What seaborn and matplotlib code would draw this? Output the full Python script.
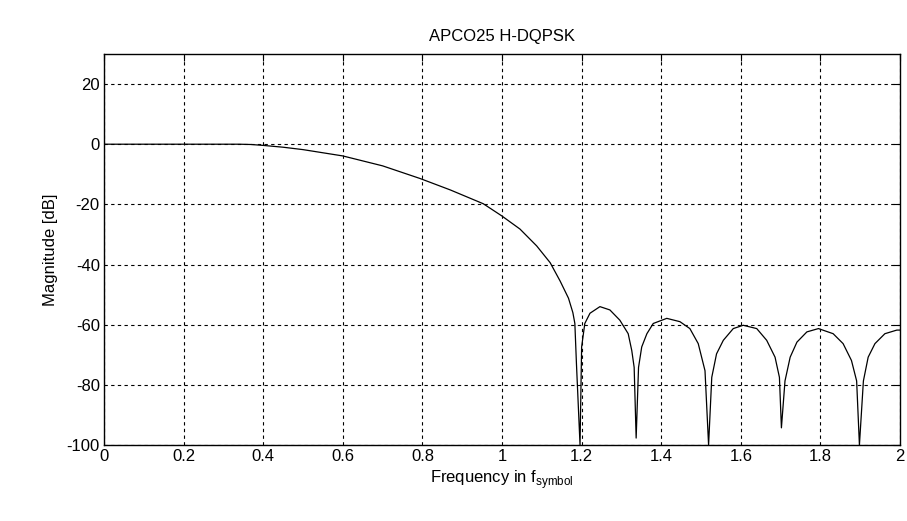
import pandas as pd
import seaborn as sns
import matplotlib.pyplot as plt

# values
freq = [0.0, 0.2, 0.34, 0.37, 0.4, 0.45, 0.5, 0.6, 0.7, 0.794, 0.87, 0.953, 0.999, 1.045, 1.087,
        1.121, 1.146, 1.167, 1.178, 1.183, 1.187, 1.196,
        1.2, 1.208, 1.221, 1.246, 1.271, 1.296, 1.317, 1.326, 1.332, 1.337,
        1.343, 1.351, 1.364, 1.38, 1.414, 1.447, 1.472, 1.493, 1.51, 1.519,
        1.527, 1.539, 1.556, 1.581, 1.606, 1.64, 1.665, 1.686, 1.697, 1.702,
        1.711, 1.724, 1.741, 1.766, 1.795, 1.832, 1.857, 1.878, 1.891, 1.898,
        1.908, 1.92, 1.937, 1.962, 1.992, 2.0]
mag_db = [0.0, 0.0, 0.0, -0.1, -0.4, -1.0, -1.8, -3.9, -7.2, -11.4, -15.2, -19.8, -23.8, -28.2, -33.8,
          -39.4, -45.5, -51.2, -56.0, -59.6, -73.0, -100.0,
          -67.4, -59.6, -56.2, -54.0, -55.1, -58.5, -63.0, -68.6, -74.2, -97.7,
          -74.2, -67.4, -63.0, -59.6, -57.9, -59.0, -61.3, -66.3, -75.3, -100.0,
          -77.5, -69.7, -65.2, -61.3, -60.2, -61.3, -65.2, -70.8, -77.5, -94.3,
          -78.7, -70.8, -65.8, -62.4, -61.3, -63.0, -66.3, -71.9, -78.7, -100.0,
          -78.7, -70.8, -66.3, -63.0, -61.8, -61.8]

xticks = [0, 0.2, 0.4, 0.6, 0.8, 1, 1.2, 1.4, 1.6, 1.8, 2]
xticklabels = ["0", "0.2", "0.4", "0.6", "0.8", "1", "1.2", "1.4", "1.6", "1.8", "2"]
yticks = [-100, -80, -60, -40, -20, 0, 20]

df = pd.DataFrame({"freq": freq, "mag": mag_db})

sns.set_style("white")
plt.rcParams['font.family'] = ['Liberation Sans', 'DejaVu Sans']
plt.rcParams['mathtext.fontset'] = 'custom'
plt.rcParams['mathtext.rm'] = 'Liberation Sans'
plt.rcParams['axes.unicode_minus'] = False
plt.rcParams['text.color'] = 'black'
plt.rcParams['axes.labelcolor'] = 'black'

fig = plt.figure(figsize=(9.07, 5.21), dpi=100)
ax = fig.add_axes([0.1147, 0.1459, 0.8776, 0.7505])

sns.lineplot(data=df, x="freq", y="mag", ax=ax, color="black", linewidth=0.9,
             sort=False, estimator=None)

ax.set_xlim(0, 2)
ax.set_ylim(-100, 30)
ax.set_xticks(xticks)
ax.set_xticklabels(xticklabels)
ax.set_yticks(yticks)
ax.grid(True, color="black", linestyle=(0, (3, 3)), linewidth=0.8)
ax.tick_params(direction="in", length=5, width=0.8, top=True, right=True,
               labelsize=12, colors="black", pad=3)
for s in ax.spines.values():
    s.set_color("black")
    s.set_linewidth(1.0)

ax.set_title("APCO25 H-DQPSK", fontsize=12, pad=9, color="black")
ax.set_xlabel(r"Frequency in f$_{\mathrm{symbol}}$", fontsize=12, labelpad=3, color="black")
ax.set_ylabel("Magnitude [dB]", fontsize=12, labelpad=6, color="black")

fig.savefig("out.png", dpi=100)
